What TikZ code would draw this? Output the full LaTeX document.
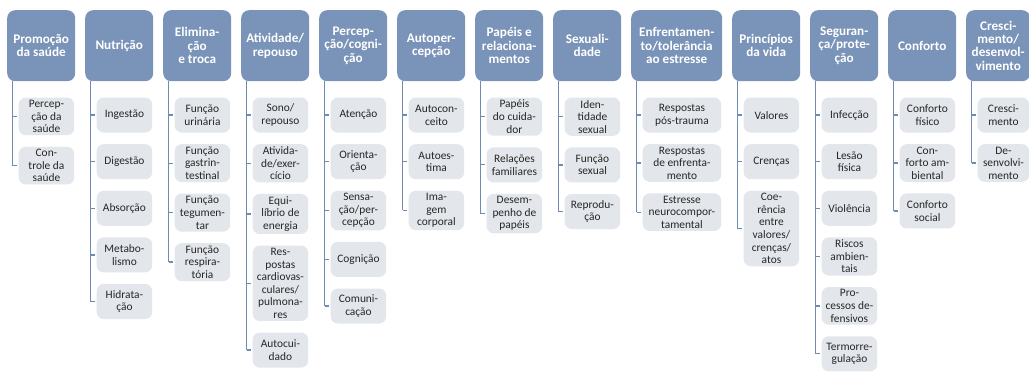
\documentclass[tikz,border=0pt]{standalone}
\usepackage{fontspec}
\setmainfont{Carlito}
\usetikzlibrary{calc}
\definecolor{hdrblue}{HTML}{7A93B8}
\definecolor{linkblue}{HTML}{6F8BB0}
\definecolor{boxgray}{HTML}{E3E7EC}
\definecolor{txtgray}{HTML}{262626}
\tikzset{
  hdr/.style={draw=none, fill=hdrblue, rounded corners=8pt, minimum height=71pt,
    inner sep=1pt, align=center, text=white,
    font=\fontsize{13.2}{13.4}\selectfont\bfseries},
  childbox/.style={draw=none, fill=boxgray, rounded corners=7pt, minimum height=35pt,
    inner xsep=1pt, inner ysep=2.5pt, align=center, text=txtgray,
    font=\fontsize{11.4}{12.6}\selectfont},
  link/.style={draw=linkblue, line width=1.3pt},
}
\newcommand\nandacol[5]{%
  \node[hdr, minimum width=#3pt, anchor=north west] (h#1) at (#2pt,-10pt) {#4};
  \coordinate (c#1-0) at ([xshift=11.5pt,yshift=-4.8pt]h#1.south west);
  \foreach \t [count=\i, remember=\i as \prev (initially 0)] in {#5} {
    \node[childbox, minimum width={#3pt-12.5pt}, anchor=north west] (c#1-\i)
      at ([yshift=-11.2pt]c#1-\prev.south west) {\t};
    \draw[link, shorten >=1.5pt] ([xshift=5.5pt]h#1.south west |- c#1-\i.west) -- (c#1-\i.west);
    \xdef\nlast{\i}
  }
  \draw[link] ([xshift=5.5pt]h#1.south west) -- ([xshift=5.5pt]h#1.south west |- c#1-\nlast.west);
}
\begin{document}
\begin{tikzpicture}
\useasboundingbox[fill=white] (0,0) rectangle (1029pt,-375pt);
\nandacol{1}{7}{68}{Promoção\\da saúde}{{Percep-\\ção da\\saúde},{Con-\\trole da\\saúde}}
\nandacol{2}{85}{68}{Nutrição}{{Ingestão},{Digestão},{Absorção},{Metabo-\\lismo},{Hidrata-\\ção}}
\nandacol{3}{163}{68}{Elimina-\\ção\\e troca}{{Função\\urinária},{Função\\gastrin-\\testinal},{Função\\tegumen-\\tar},{Função\\respira-\\tória}}
\nandacol{4}{241}{68}{Atividade/\\repouso}{{Sono/\\repouso},{Ativida-\\de/exer-\\cício},{Equi-\\líbrio de\\energia},{Res-\\postas\\cardiovas-\\culares/\\pulmona-\\res},{Autocui-\\dado}}
\nandacol{5}{319}{68}{Percep-\\ção/cogni-\\ção}{{Atenção},{Orienta-\\ção},{Sensa-\\ção/per-\\cepção},{Cognição},{Comuni-\\cação}}
\nandacol{6}{397}{68}{Autoper-\\cepção}{{Autocon-\\ceito},{Autoes-\\tima},{Ima-\\gem\\corporal}}
\nandacol{7}{475}{68}{Papéis e\\relaciona-\\mentos}{{Papéis\\do cuida-\\dor},{Relações\\familiares},{Desem-\\penho de\\papéis}}
\nandacol{8}{553}{68}{Sexuali-\\dade}{{Iden-\\tidade\\sexual},{Função\\sexual},{Reprodu-\\ção}}
\nandacol{9}{631}{91}{Enfrentamen-\\to/tolerância\\ao estresse}{{Respostas\\pós-trauma},{Respostas\\de enfrenta-\\mento},{Estresse\\neurocompor-\\tamental}}
\nandacol{10}{732}{68}{Princípios\\da vida}{{Valores},{Crenças},{Coe-\\rência\\entre\\valores/\\crenças/\\atos}}
\nandacol{11}{810}{68}{Seguran-\\ça/prote-\\ção}{{Infecção},{Lesão\\física},{Violência},{Riscos\\ambien-\\tais},{Pro-\\cessos de-\\fensivos},{Termorre-\\gulação}}
\nandacol{12}{888}{68}{Conforto}{{Conforto\\físico},{Con-\\forto am-\\biental},{Conforto\\social}}
\nandacol{13}{966}{64}{Cresci-\\mento/\\desenvol-\\vimento}{{Cresci-\\mento},{De-\\senvolvi-\\mento}}
\end{tikzpicture}
\end{document}
